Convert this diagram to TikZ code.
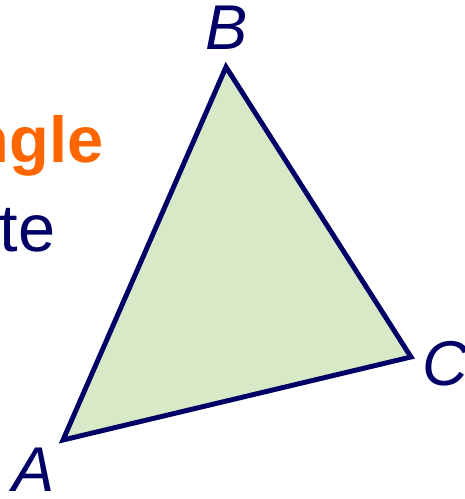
\documentclass[tikz,border=0pt]{standalone}
\usepackage{fontspec}
\setmainfont{Liberation Sans}
\usepackage{xcolor}
\definecolor{trinavy}{RGB}{0, 0, 102}
\definecolor{triorange}{RGB}{255, 102, 0}
\definecolor{trifill}{RGB}{215, 233, 199}
\usetikzlibrary{positioning}

\begin{document}
\begin{tikzpicture}[x=1cm, y=1cm,
  vertexlabel/.style={text=trinavy, inner sep=0pt, font=\fontsize{36}{40}\selectfont\itshape},
  bigtext/.style={inner sep=0pt, anchor=base east, font=\fontsize{38}{42}\selectfont}]
  \useasboundingbox (0,0) rectangle (9.3,9.98);
  % Vertices
  \coordinate (A) at (1.26, 1.18);
  \coordinate (B) at (4.52, 8.64);
  \coordinate (C) at (8.22, 2.84);
  % Triangle
  \filldraw[draw=trinavy, fill=trifill, line width=2.8pt, line join=miter]
    (A) -- (B) -- (C) -- cycle;
  % Labels
  \node[vertexlabel] (la) at (0.68, 0.58) {A};
  \node[vertexlabel] (lb) at (4.54, 9.42) {B};
  \node[vertexlabel] (lc) at (8.90, 2.70) {C};
  % Cut-off text
  \node[bigtext, text=triorange, font=\fontsize{37}{42}\selectfont\bfseries] (title) at (2.08, 6.72) {ngle};
  \node[bigtext, text=trinavy] (word) at (1.11, 4.94) {te};
\end{tikzpicture}
\end{document}
